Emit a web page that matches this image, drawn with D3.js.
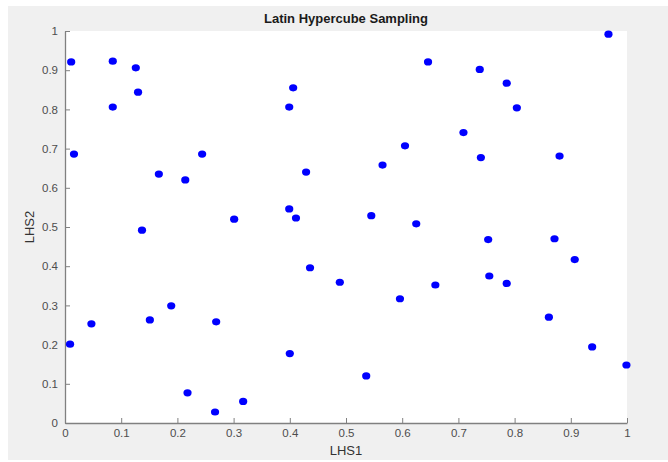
<!DOCTYPE html>
<html>
<head>
<meta charset="utf-8">
<script src="https://cdn.jsdelivr.net/npm/d3@7/dist/d3.min.js"></script>
<style>
	body { margin: 0; background: #fff; }
	svg { display: block; font-family: 'Liberation Sans', Arial, sans-serif; }
	.axis path, .axis line { stroke: #808080; }
	.axis text { fill: #4d4d4d; font-size: 11.5px; }
</style>
</head>
<body>
<svg></svg>
<script>
'use strict'

// LHS samples
let lhs1 = [
	0.011, 0.085, 0.126, 0.085, 0.130, 0.016, 0.167, 0.214, 0.244, 0.137,
	0.399, 0.411, 0.301, 0.399, 0.406, 0.429, 0.967, 0.646, 0.738, 0.786,
	0.804, 0.709, 0.605, 0.740, 0.880, 0.565, 0.545, 0.625, 0.753, 0.871,
	0.489, 0.596, 0.659, 0.755, 0.786, 0.907, 0.861, 0.938, 0.999, 0.536,
	0.436, 0.009, 0.047, 0.151, 0.189, 0.269, 0.400, 0.218, 0.267, 0.317 ],
	lhs2 = [
	0.921, 0.923, 0.906, 0.806, 0.844, 0.686, 0.635, 0.620, 0.686, 0.492,
	0.546, 0.523, 0.520, 0.806, 0.855, 0.640, 0.992, 0.921, 0.902, 0.867,
	0.804, 0.741, 0.707, 0.677, 0.681, 0.658, 0.529, 0.508, 0.468, 0.470,
	0.359, 0.317, 0.352, 0.375, 0.356, 0.417, 0.270, 0.194, 0.148, 0.120,
	0.396, 0.201, 0.253, 0.263, 0.299, 0.258, 0.177, 0.077, 0.028, 0.055 ],
	ticks = d3.range(0, 11).map(n => n / 10)

let W = 668, H = 462,
	margin = {top: 31, right: 41, bottom: 39, left: 65},
	width = W - margin.left - margin.right,
	height = H - margin.top - margin.bottom,
	x = d3.scaleLinear().domain([0, 1]).range([0, width]),
	y = d3.scaleLinear().domain([0, 1]).range([height, 0]),
	fmt = d => d === 0 || d === 1 ? String(d) : d.toFixed(1)

let svg = d3.select('svg').attr('width', W).attr('height', H)

svg.append('rect').attr('x', 8).attr('y', 6)
	.attr('width', W - 8).attr('height', H - 8).attr('fill', '#f0f0f0')

let vis = svg.append('g').attr('transform', `translate(${margin.left} ${margin.top})`)

vis.append('rect').attr('width', width).attr('height', height).attr('fill', '#fff')

vis.append('g').attr('class', 'x axis').attr('transform', `translate(0 ${height})`)
	.call(d3.axisBottom(x).tickValues(ticks).tickFormat(fmt).tickSizeInner(-5).tickSizeOuter(0))
	.call(s => s.selectAll('text').attr('y', 6).attr('dy', '0.71em'))

vis.append('g').attr('class', 'y axis')
	.call(d3.axisLeft(y).tickValues(ticks).tickFormat(fmt).tickSizeInner(-5).tickSizeOuter(0))
	.call(s => s.selectAll('text').attr('x', -7))

vis.selectAll('.axis path').attr('stroke-width', 1.3)

vis.append('g').selectAll('ellipse').data(d3.zip(lhs1, lhs2)).join('ellipse')
	.attr('cx', d => x(d[0])).attr('cy', d => y(d[1])).attr('rx', 4.1).attr('ry', 3.6)
	.attr('fill', '#0000ff')

svg.append('text').attr('x', margin.left + width / 2).attr('y', 23)
	.attr('text-anchor', 'middle').attr('font-weight', 'bold').attr('font-size', 13)
	.attr('fill', '#1a1a1a').text('Latin Hypercube Sampling')

svg.append('text').attr('x', margin.left + width / 2).attr('y', 455)
	.attr('text-anchor', 'middle').attr('font-size', 13).attr('fill', '#333')
	.text('LHS1')

svg.append('text').attr('transform', `translate(34 ${margin.top + height / 2}) rotate(-90)`)
	.attr('text-anchor', 'middle').attr('font-size', 13).attr('fill', '#333')
	.text('LHS2')
</script>
</body>
</html>
